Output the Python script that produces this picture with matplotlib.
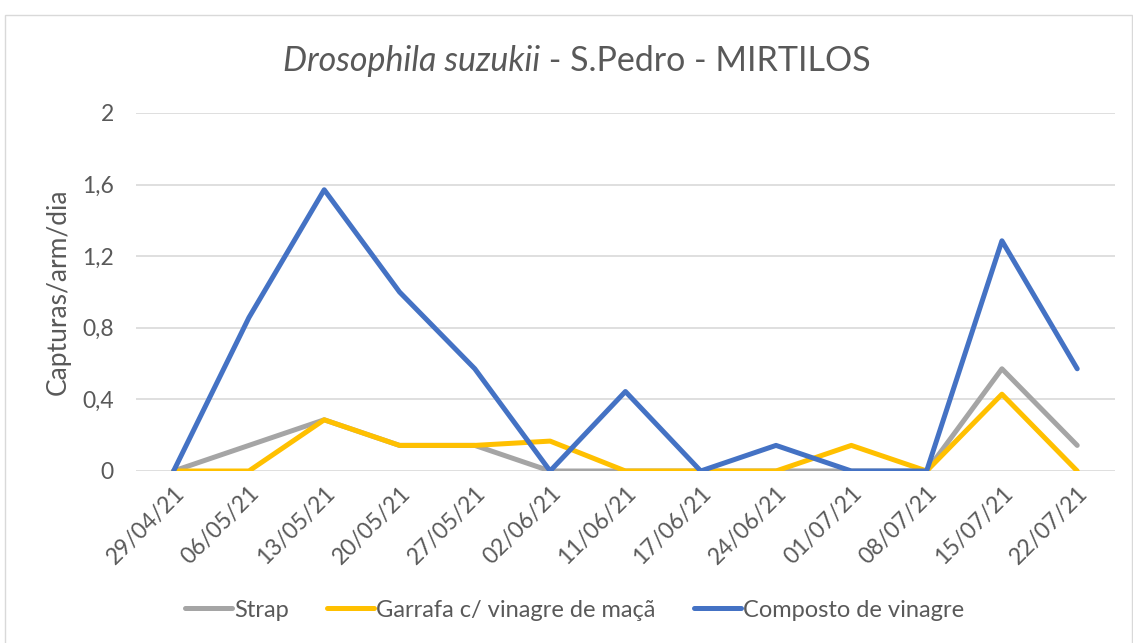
import matplotlib.pyplot as plt
from matplotlib.patches import Rectangle
from matplotlib.ticker import FuncFormatter

datas = ['29/04/21', '06/05/21', '13/05/21', '20/05/21', '27/05/21', '02/06/21',
         '11/06/21', '17/06/21', '24/06/21', '01/07/21', '08/07/21', '15/07/21', '22/07/21']
strap = [0, 0.143, 0.286, 0.143, 0.143, 0, 0, 0, 0, 0, 0, 0.571, 0.143]
garrafa = [0, 0, 0.286, 0.143, 0.143, 0.167, 0, 0, 0, 0.143, 0, 0.429, 0]
composto = [0, 0.857, 1.571, 1.0, 0.571, 0, 0.444, 0, 0.143, 0, 0, 1.286, 0.571]
y_ticks = [0, 0.4, 0.8, 1.2, 1.6, 2]

plt.rcParams['font.family'] = ['Lato', 'DejaVu Sans']
txt = '#595959'

fig = plt.figure(figsize=(11.33, 6.43), dpi=100)
ax = fig.add_axes([0.120, 0.2675, 0.864, 0.5568])

# chart border
fig.patches.append(Rectangle((0.004, -0.01), 0.995, 0.987, transform=fig.transFigure,
                             fill=False, edgecolor='#D9D9D9', linewidth=1))

x = range(len(datas))
lw = 3.6
ax.plot(x, strap, color='#A5A5A5', lw=lw, solid_capstyle='round', solid_joinstyle='round', label='Strap')
ax.plot(x, garrafa, color='#FFC000', lw=lw, solid_capstyle='round', solid_joinstyle='round',
        label='Garrafa c/ vinagre de maçã')
ax.plot(x, composto, color='#4472C4', lw=lw, solid_capstyle='round', solid_joinstyle='round',
        label='Composto de vinagre')

ax.set_xlim(-0.5, len(datas) - 0.5)
ax.set_ylim(0, 2)
ax.set_yticks(y_ticks)
ax.yaxis.set_major_formatter(FuncFormatter(lambda v, p: ('%g' % v).replace('.', ',')))
ax.set_xticks(list(x))
ax.set_xticklabels(datas, rotation=45, ha='right', rotation_mode='anchor')
ax.tick_params(axis='both', length=0, labelsize=16.5, colors=txt)
ax.tick_params(axis='x', pad=8)
ax.tick_params(axis='y', pad=16)
ax.grid(axis='y', color='#D9D9D9', lw=1.2)
ax.set_axisbelow(True)
for s in ax.spines.values():
    s.set_visible(False)

ax.set_ylabel('Capturas/arm/dia', fontsize=19, color=txt, labelpad=8)

fig.text(0.477, 0.905, 'Drosophila suzukii', fontsize=24.5, color=txt, style='italic',
         ha='right', va='center')
fig.text(0.477, 0.905, ' - S.Pedro - MIRTILOS', fontsize=24.5, color=txt, ha='left', va='center')

fig.legend(loc='center', bbox_to_anchor=(0.507, 0.051), ncol=3, frameon=False,
           fontsize=17, labelcolor=txt, handlelength=2.0, handletextpad=0.1, columnspacing=1.6)

fig.savefig('out.png', dpi=100)
